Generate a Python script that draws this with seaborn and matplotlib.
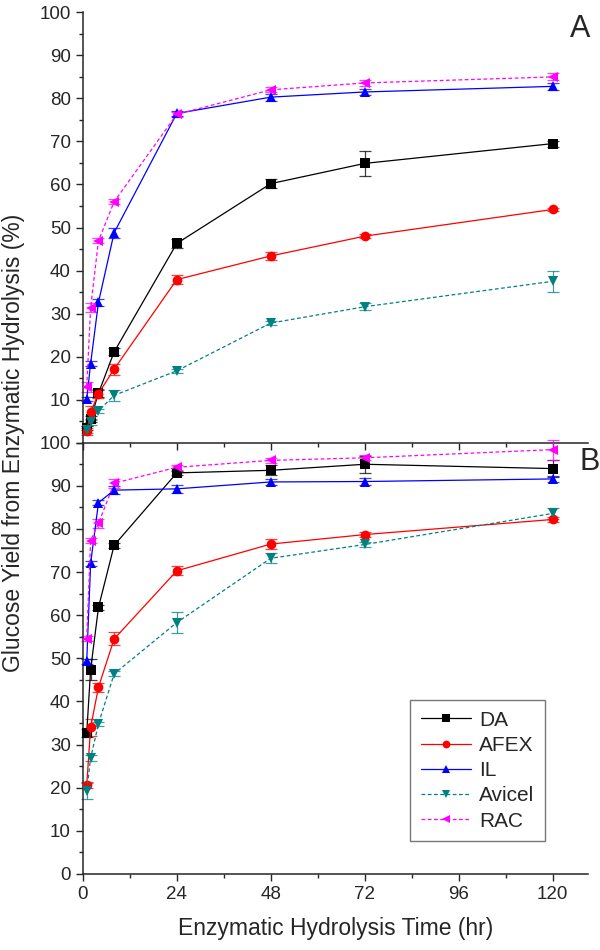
import numpy as np
import pandas as pd
import matplotlib
matplotlib.use("Agg")
import matplotlib.pyplot as plt
import seaborn as sns

# sampling times (hr)
times = [1, 2, 4, 8, 24, 48, 72, 120]
substrates = ["DA", "AFEX", "IL", "Avicel", "RAC"]

# panel A glucose yields (%)
a_da = [3.4, 5.5, 11.5, 21.1, 46.3, 60.2, 64.9, 69.5]
a_afex = [2.7, 7.1, 11.4, 17.1, 37.9, 43.4, 48.0, 54.2]
a_il = [10.1, 18.4, 32.6, 48.8, 76.5, 80.3, 81.5, 82.8]
a_avicel = [3.0, 4.7, 7.4, 11.0, 16.7, 27.8, 31.6, 37.5]
a_rac = [13.0, 31.4, 46.9, 56.0, 76.3, 82.0, 83.6, 85.0]

a_da_err = [0.5, 0.8, 0.8, 0.8, 1.0, 1.0, 2.9, 0.7]
a_afex_err = [0.8, 1.5, 1.0, 1.3, 1.0, 1.0, 0.5, 0.4]
a_il_err = [0.5, 0.5, 0.8, 1.2, 0.6, 0.8, 0.8, 0.8]
a_avicel_err = [0.8, 0.6, 0.5, 1.2, 0.5, 0.5, 0.8, 2.4]
a_rac_err = [1.2, 1.0, 0.6, 0.6, 0.6, 0.6, 0.6, 0.8]

# panel B glucose yields (%)
b_da = [32.7, 47.4, 61.8, 76.2, 93.0, 93.6, 95.0, 94.0]
b_afex = [20.6, 34.0, 43.3, 54.5, 70.3, 76.5, 78.7, 82.2]
b_il = [49.3, 72.0, 86.1, 89.0, 89.3, 90.9, 91.0, 91.6]
b_avicel = [19.3, 26.9, 34.8, 46.4, 58.3, 73.2, 76.4, 83.6]
b_rac = [54.6, 77.3, 81.3, 90.6, 94.3, 95.9, 96.5, 98.4]

b_da_err = [1.0, 2.5, 0.6, 0.6, 0.5, 1.2, 2.0, 2.0]
b_afex_err = [0.7, 2.0, 1.0, 1.5, 1.0, 1.2, 0.6, 0.5]
b_il_err = [0.5, 0.5, 0.5, 1.0, 1.0, 0.6, 0.8, 0.6]
b_avicel_err = [1.9, 0.6, 0.5, 0.6, 2.5, 1.2, 0.6, 1.2]
b_rac_err = [0.5, 0.5, 1.0, 1.0, 0.6, 0.6, 0.6, 2.3]

colors = {"DA": "black", "AFEX": "red", "IL": "blue", "Avicel": "#008080", "RAC": "magenta"}
markers = {"DA": "s", "AFEX": "o", "IL": "^", "Avicel": "v", "RAC": "<"}
dashes = {"DA": "", "AFEX": "", "IL": "", "Avicel": (3, 2), "RAC": (3, 2)}


def build(vals, errs):
    # long form table for seaborn
    rows = []
    for name, v, e in zip(substrates, vals, errs):
        for t, y, s in zip(times, v, e):
            rows.append({"time": t, "yield": y, "err": s, "substrate": name})
    return pd.DataFrame(rows)


df_a = build([a_da, a_afex, a_il, a_avicel, a_rac],
             [a_da_err, a_afex_err, a_il_err, a_avicel_err, a_rac_err])
df_b = build([b_da, b_afex, b_il, b_avicel, b_rac],
             [b_da_err, b_afex_err, b_il_err, b_avicel_err, b_rac_err])

sns.set_style("ticks")
plt.rcParams['font.family'] = ['Liberation Sans', 'DejaVu Sans']

fig = plt.figure(figsize=(6, 9.5), dpi=100)
ax_a = fig.add_axes([0.138, 0.534, 0.842, 0.453])
ax_b = fig.add_axes([0.138, 0.08, 0.842, 0.454])

for ax, df, label, lx, ly in [(ax_a, df_a, "A", 0.964, 0.961), (ax_b, df_b, "B", 0.984, 0.956)]:
    # error bars first, then lines + markers from seaborn
    for name in substrates:
        sub = df[df["substrate"] == name]
        ax.errorbar(sub["time"], sub["yield"], yerr=sub["err"], fmt="none",
                    ecolor=colors[name], elinewidth=0.9, capsize=4, capthick=0.9,
                    alpha=0.75, clip_on=False, zorder=2)
    sns.lineplot(data=df, x="time", y="yield", hue="substrate", style="substrate",
                 palette=colors, markers=markers, dashes=dashes, hue_order=substrates,
                 style_order=substrates, markersize=7, markeredgewidth=0,
                 linewidth=0.9, ax=ax, legend=(ax is ax_b), clip_on=False, zorder=3)
    ax.set_xlim(0, 129)
    ax.set_ylim(0, 100)
    ax.set_xticks([0, 24, 48, 72, 96, 120])
    ax.set_xticks([12, 36, 60, 84, 108], minor=True)
    ax.set_yticks(range(0, 101, 10))
    ax.set_yticks(range(5, 100, 10), minor=True)
    ax.tick_params(axis="both", which="major", direction="out", length=5, width=1, labelsize=13.5)
    ax.tick_params(axis="both", which="minor", direction="out", length=3, width=1)
    ax.set_xlabel("")
    ax.set_ylabel("")
    for side in ["top", "right"]:
        ax.spines[side].set_visible(False)
    for side in ["left", "bottom"]:
        ax.spines[side].set_linewidth(1.1)
    ax.patch.set_alpha(0)
    ax.text(lx, ly, label, transform=ax.transAxes, fontsize=22, ha="left", va="center")

# panel A: no x labels, and its 0 sits under panel B's 100
ax_a.tick_params(axis="x", labelbottom=False)
ax_a.set_yticklabels([""] + [str(v) for v in range(10, 101, 10)])

ax_b.set_xlabel("Enzymatic Hydrolysis Time (hr)", fontsize=16.5, labelpad=10)
fig.text(0.022, 0.534, "Glucose Yield from Enzymatic Hydrolysis (%)", rotation=90,
         fontsize=16.5, ha="center", va="center")

leg = ax_b.legend(loc="lower right", bbox_to_anchor=(0.935, 0.052), fontsize=15,
                  frameon=True, fancybox=False, edgecolor="#555555", handlelength=2.4,
                  borderpad=0.5, labelspacing=0.3, handletextpad=0.4, markerscale=0.8)
leg.get_frame().set_linewidth(1.0)

plt.savefig("out.png", dpi=100)
